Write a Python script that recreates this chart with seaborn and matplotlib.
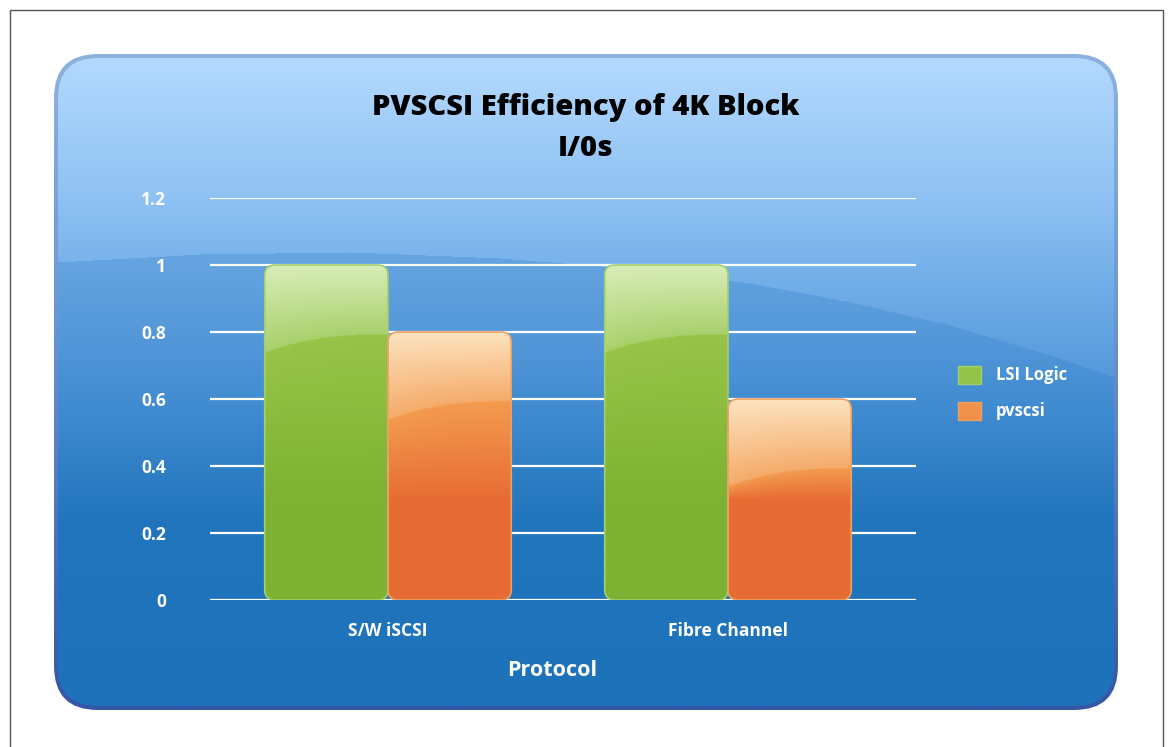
import numpy as np
import pandas as pd
import matplotlib.pyplot as plt
import seaborn as sns
from matplotlib.patches import FancyBboxPatch, Rectangle, Patch
from matplotlib.colors import to_rgb

# ---- data -----------------------------------------------------------------
protocols = ["S/W iSCSI", "Fibre Channel"]
controllers = ["LSI Logic", "pvscsi"]
lsi_logic = [1.0, 1.0]
pvscsi = [0.8, 0.6]
y_ticks = [0, 0.2, 0.4, 0.6, 0.8, 1.0, 1.2]
y_tick_labels = ["0", "0.2", "0.4", "0.6", "0.8", "1", "1.2"]

df = pd.DataFrame({
    "protocol": protocols * 2,
    "controller": [controllers[0]] * 2 + [controllers[1]] * 2,
    "value": lsi_logic + pvscsi,
})

# glossy bar colours: top, above gloss line, below gloss line, base, edge
BAR_COLORS = {
    "LSI Logic": ("#d8edb8", "#a9d06c", "#98c448", "#7db232", "#a2cf6c"),
    "pvscsi":    ("#fde3bf", "#f5ab6a", "#f39b4f", "#e76c34", "#eea062"),
}

sns.set_theme(style="white")
plt.rcParams["font.family"] = ["Open Sans", "DejaVu Sans"]
plt.rcParams["font.weight"] = "bold"

W, H = 1168, 747
fig = plt.figure(figsize=(W / 100, H / 100), dpi=100, facecolor="white")


def ramp(vals, stops):
    """Interpolate colours along vals; stops = [(pos, colour), ...]."""
    pos = [s[0] for s in stops]
    cols = np.array([to_rgb(s[1]) for s in stops])
    return np.stack([np.interp(vals, pos, cols[:, c]) for c in range(3)], axis=-1)


# ---- background panel (pixel coordinates) ---------------------------------
bg = fig.add_axes([0, 0, 1, 1])
bg.set_xlim(0, W)
bg.set_ylim(H, 0)
bg.axis("off")

bg.add_patch(Rectangle((9.5, 9.5), 1153.5, 780, fill=False,
                       edgecolor="#555555", lw=1))

# rim of the panel
rim = FancyBboxPatch((54, 54), 1064, 656, boxstyle="round,pad=0,rounding_size=44",
                     facecolor="none", edgecolor="none")
bg.add_patch(rim)
yy = np.arange(54, 711)
rim_img = ramp(yy, [(54, "#8db2de"), (300, "#7098d2"), (710, "#3556a4")])
rim_img = np.repeat(rim_img[:, None, :], 4, axis=1)
im = bg.imshow(rim_img, extent=(54, 1118, 710, 54), aspect="auto",
               interpolation="bilinear", zorder=1)
im.set_clip_path(rim)

# panel fill with the light "wave"
panel = FancyBboxPatch((58, 58), 1056, 648, boxstyle="round,pad=0,rounding_size=40",
                       facecolor="none", edgecolor="none")
bg.add_patch(panel)
xs = np.arange(58, 1115)
ys = np.arange(58, 707)
X, Y = np.meshgrid(xs, ys)
curve = np.interp(xs, [58, 200, 350, 500, 650, 750, 850, 950, 1050, 1117],
                  [262, 254, 252, 258, 270, 283, 302, 325, 355, 378])
above = ramp(Y, [(58, "#b3d9fe"), (200, "#8ec1f3"), (265, "#78b2ea"),
                 (330, "#62a3e1"), (400, "#4e94d8")])
below = ramp(Y, [(250, "#66a5e1"), (330, "#5599da"), (420, "#3d89cf"),
                 (520, "#2175bc"), (707, "#1e72ba")])
mask = (Y < curve[None, :])[..., None]
panel_img = np.where(mask, above, below)
im = bg.imshow(panel_img, extent=(58, 1115, 707, 58), aspect="auto",
               interpolation="bilinear", zorder=2)
im.set_clip_path(panel)

# ---- chart -----------------------------------------------------------------
ax = fig.add_axes([210 / W, (H - 600) / H, 706 / W, 402 / H])
ax.set_facecolor("none")

sns.barplot(data=df, x="protocol", y="value", hue="controller",
            hue_order=controllers, order=protocols, width=0.725,
            palette={c: BAR_COLORS[c][3] for c in controllers},
            legend=False, ax=ax)

ax.set_yticks(y_ticks)
ax.set_yticklabels(y_tick_labels)
ax.yaxis.grid(True, color="white", lw=1.6)
ax.set_axisbelow(True)
for s in ax.spines.values():
    s.set_visible(False)
ax.tick_params(axis="both", length=0, colors="white", labelsize=12.5)
ax.tick_params(axis="y", pad=31.5)
ax.tick_params(axis="x", pad=15.5)
for lbl in ax.get_xticklabels() + ax.get_yticklabels():
    lbl.set_fontweight("bold")
    lbl.set_color("white")

ax.set_ylabel("")
ax.set_xlabel("Protocol", color="white", fontsize=15.5, fontweight="bold")
ax.xaxis.set_label_coords((552 - 210) / 706, -(670 - 600) / 402)
ax.xaxis.label.set_va("center")

# replace the flat bars with rounded glossy ones
aspect = (706 / 2.0765) / (402 / 1.2)
for level, cont in zip(controllers, ax.containers):
    top_c, mid_c, gloss_c, base_c, edge_c = BAR_COLORS[level]
    for p in cont.patches:
        x0, w, h = p.get_x(), p.get_width(), p.get_height()
        p.set_visible(False)
        shape = FancyBboxPatch((x0, 0), w, h,
                               boxstyle="round,pad=0,rounding_size=0.03",
                               mutation_aspect=1 / aspect,
                               facecolor="none", edgecolor=edge_c, lw=1.2,
                               zorder=3)
        ax.add_patch(shape)
        nr, nc = 400, 80
        U, YV = np.meshgrid(np.linspace(0, 1, nc), np.linspace(h, 0, nr))
        gloss = h - (0.206 + 0.054 * (1 - U) ** 2.5)
        up_t = np.clip((h - YV) / (h - gloss), 0, 1)[..., None]
        up = np.array(to_rgb(top_c)) * (1 - up_t) + np.array(to_rgb(mid_c)) * up_t
        lo_t = np.clip((gloss - YV) / np.maximum(gloss - 0.3, 1e-3), 0, 1)[..., None]
        lo = np.array(to_rgb(gloss_c)) * (1 - lo_t) + np.array(to_rgb(base_c)) * lo_t
        img = np.where((YV > gloss)[..., None], up, lo)
        bim = ax.imshow(img, extent=(x0, x0 + w, 0, h), aspect="auto",
                        interpolation="bilinear", zorder=2.5)
        bim.set_clip_path(shape)

ax.set_xlim(-0.5235, 1.553)
ax.set_ylim(0, 1.2)

handles = [Patch(facecolor="#93c449", edgecolor=BAR_COLORS["LSI Logic"][4]),
           Patch(facecolor="#f0904a", edgecolor=BAR_COLORS["pvscsi"][4])]
leg = ax.legend(handles, controllers, loc="center left",
                bbox_to_anchor=(958 / W, 1 - 393 / H),
                bbox_transform=fig.transFigure, frameon=False,
                borderpad=0, borderaxespad=0, handlelength=1.4,
                handleheight=1.3, handletextpad=0.85, labelspacing=1.05,
                prop={"weight": "bold", "size": 12})
for t in leg.get_texts():
    t.set_color("white")

# ---- title -----------------------------------------------------------------
fig.text(586 / W, 1 - 107 / H, "PVSCSI Efficiency of 4K Block",
         ha="center", va="center", fontsize=21, fontweight=800, color="black")
fig.text(586 / W, 1 - 148 / H, "I/0s",
         ha="center", va="center", fontsize=21, fontweight=800, color="black")

fig.savefig("out.png", dpi=100, facecolor="white")
